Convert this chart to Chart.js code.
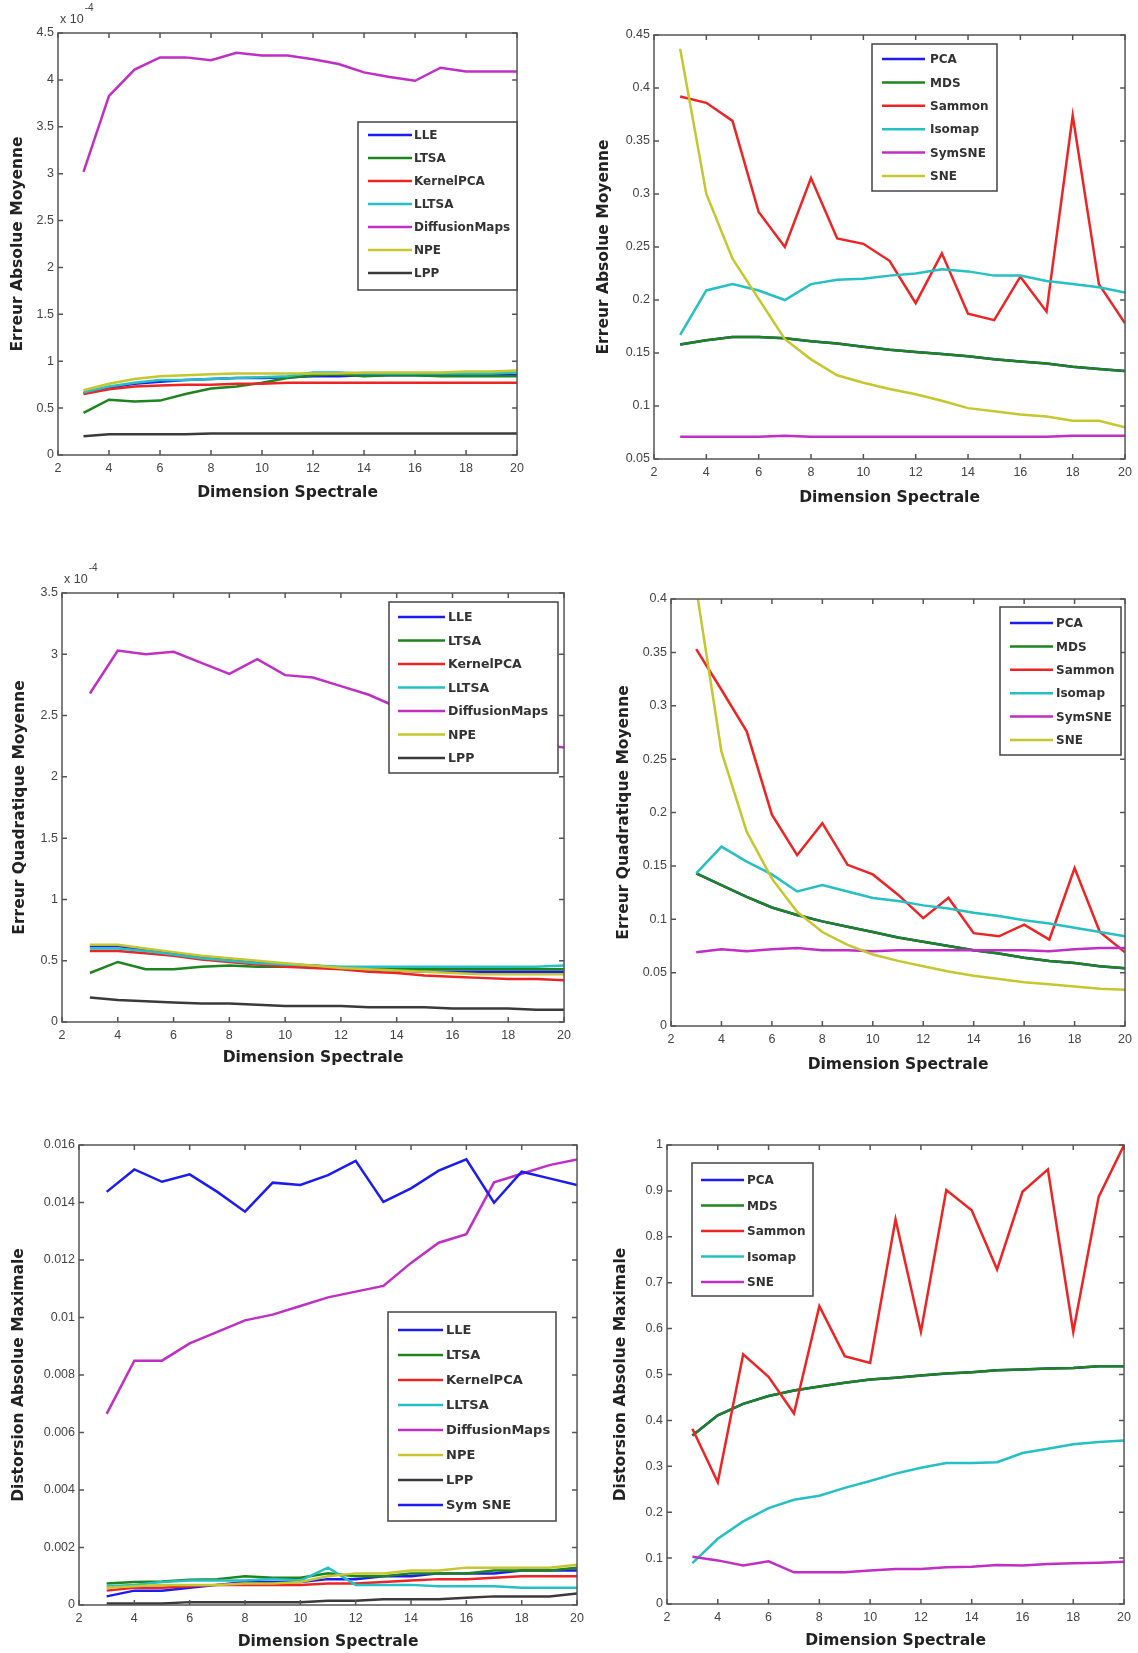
<!DOCTYPE html>
<html>
<head>
<meta charset="utf-8">
<script src="https://cdn.jsdelivr.net/npm/chart.js@4.4.1/dist/chart.umd.min.js"></script>
<style>
  html, body { margin: 0; padding: 0; background: #fff; }
  body { width: 1138px; height: 1653px; position: relative; overflow: hidden; }
  canvas { position: absolute; }
</style>
</head>
<body>
<canvas id="p1"></canvas>
<canvas id="p2"></canvas>
<canvas id="p3"></canvas>
<canvas id="p4"></canvas>
<canvas id="p5"></canvas>
<canvas id="p6"></canvas>
<script>
// --- DONNEES ---
const dims = [3, 4, 5, 6, 7, 8, 9, 10, 11, 12, 13, 14, 15, 16, 17, 18, 19, 20];
const xTicks = [2, 4, 6, 8, 10, 12, 14, 16, 18, 20];

// Erreur Absolue Moyenne (x 10^-4)
const eamLLE   = [0.66, 0.72, 0.76, 0.78, 0.80, 0.81, 0.82, 0.82, 0.83, 0.84, 0.84, 0.85, 0.85, 0.85, 0.85, 0.85, 0.85, 0.85];
const eamLTSA  = [0.45, 0.59, 0.57, 0.58, 0.65, 0.71, 0.73, 0.77, 0.82, 0.85, 0.86, 0.84, 0.85, 0.85, 0.84, 0.84, 0.84, 0.84];
const eamKPCA  = [0.65, 0.70, 0.73, 0.74, 0.75, 0.75, 0.76, 0.76, 0.77, 0.77, 0.77, 0.77, 0.77, 0.77, 0.77, 0.77, 0.77, 0.77];
const eamLLTSA = [0.67, 0.73, 0.77, 0.80, 0.80, 0.81, 0.82, 0.83, 0.84, 0.88, 0.88, 0.87, 0.87, 0.87, 0.87, 0.87, 0.87, 0.88];
const eamDM    = [3.02, 3.83, 4.11, 4.24, 4.24, 4.21, 4.29, 4.26, 4.26, 4.22, 4.17, 4.08, 4.03, 3.99, 4.13, 4.09, 4.09, 4.09];
const eamNPE   = [0.69, 0.76, 0.81, 0.84, 0.85, 0.86, 0.87, 0.87, 0.87, 0.87, 0.87, 0.88, 0.88, 0.88, 0.88, 0.89, 0.89, 0.90];
const eamLPP   = [0.20, 0.22, 0.22, 0.22, 0.22, 0.23, 0.23, 0.23, 0.23, 0.23, 0.23, 0.23, 0.23, 0.23, 0.23, 0.23, 0.23, 0.23];
const yTicksEam1 = [0, 0.5, 1, 1.5, 2, 2.5, 3, 3.5, 4, 4.5];

const eamPCA    = [0.158, 0.162, 0.165, 0.165, 0.164, 0.161, 0.159, 0.156, 0.153, 0.151, 0.149, 0.147, 0.144, 0.142, 0.140, 0.137, 0.135, 0.133];
const eamMDS    = [0.158, 0.162, 0.165, 0.165, 0.164, 0.161, 0.159, 0.156, 0.153, 0.151, 0.149, 0.147, 0.144, 0.142, 0.140, 0.137, 0.135, 0.133];
const eamSammon = [0.392, 0.386, 0.369, 0.283, 0.250, 0.315, 0.258, 0.253, 0.237, 0.197, 0.244, 0.187, 0.181, 0.222, 0.189, 0.374, 0.215, 0.178];
const eamIsomap = [0.167, 0.209, 0.215, 0.209, 0.200, 0.215, 0.219, 0.220, 0.223, 0.225, 0.229, 0.227, 0.223, 0.223, 0.218, 0.215, 0.212, 0.207];
const eamSymSNE = [0.071, 0.071, 0.071, 0.071, 0.072, 0.071, 0.071, 0.071, 0.071, 0.071, 0.071, 0.071, 0.071, 0.071, 0.071, 0.072, 0.072, 0.072];
const eamSNE    = [0.437, 0.300, 0.239, 0.201, 0.163, 0.144, 0.129, 0.122, 0.116, 0.111, 0.105, 0.098, 0.095, 0.092, 0.090, 0.086, 0.086, 0.080];
const yTicksEam2 = [0.05, 0.1, 0.15, 0.2, 0.25, 0.3, 0.35, 0.4, 0.45];

// Erreur Quadratique Moyenne (x 10^-4)
const eqmLLE   = [0.62, 0.62, 0.59, 0.56, 0.53, 0.51, 0.49, 0.47, 0.46, 0.44, 0.43, 0.42, 0.41, 0.41, 0.41, 0.41, 0.41, 0.41];
const eqmLTSA  = [0.40, 0.49, 0.43, 0.43, 0.45, 0.46, 0.45, 0.45, 0.45, 0.44, 0.44, 0.43, 0.43, 0.43, 0.43, 0.43, 0.43, 0.43];
const eqmKPCA  = [0.58, 0.58, 0.56, 0.54, 0.51, 0.49, 0.47, 0.45, 0.44, 0.43, 0.41, 0.40, 0.38, 0.37, 0.36, 0.35, 0.35, 0.34];
const eqmLLTSA = [0.60, 0.60, 0.58, 0.55, 0.52, 0.50, 0.48, 0.47, 0.46, 0.45, 0.45, 0.45, 0.45, 0.45, 0.45, 0.45, 0.45, 0.46];
const eqmDM    = [2.68, 3.03, 3.00, 3.02, 2.93, 2.84, 2.96, 2.83, 2.81, 2.74, 2.67, 2.57, 2.50, 2.43, 2.37, 2.32, 2.27, 2.24];
const eqmNPE   = [0.63, 0.63, 0.60, 0.57, 0.54, 0.52, 0.50, 0.48, 0.46, 0.44, 0.43, 0.42, 0.41, 0.40, 0.39, 0.39, 0.39, 0.39];
const eqmLPP   = [0.20, 0.18, 0.17, 0.16, 0.15, 0.15, 0.14, 0.13, 0.13, 0.13, 0.12, 0.12, 0.12, 0.11, 0.11, 0.11, 0.10, 0.10];
const yTicksEqm1 = [0, 0.5, 1, 1.5, 2, 2.5, 3, 3.5];

const eqmPCA    = [0.143, 0.132, 0.121, 0.111, 0.104, 0.098, 0.093, 0.088, 0.083, 0.079, 0.075, 0.071, 0.068, 0.064, 0.061, 0.059, 0.056, 0.054];
const eqmMDS    = [0.143, 0.132, 0.121, 0.111, 0.104, 0.098, 0.093, 0.088, 0.083, 0.079, 0.075, 0.071, 0.068, 0.064, 0.061, 0.059, 0.056, 0.054];
const eqmSammon = [0.353, 0.315, 0.276, 0.198, 0.160, 0.190, 0.151, 0.142, 0.123, 0.101, 0.120, 0.087, 0.084, 0.095, 0.081, 0.148, 0.088, 0.069];
const eqmIsomap = [0.143, 0.168, 0.154, 0.142, 0.126, 0.132, 0.126, 0.120, 0.117, 0.113, 0.110, 0.106, 0.103, 0.099, 0.096, 0.092, 0.088, 0.084];
const eqmSymSNE = [0.069, 0.072, 0.070, 0.072, 0.073, 0.071, 0.071, 0.070, 0.071, 0.071, 0.071, 0.071, 0.071, 0.071, 0.070, 0.072, 0.073, 0.073];
const eqmSNE    = [0.410, 0.257, 0.182, 0.138, 0.107, 0.088, 0.076, 0.067, 0.061, 0.056, 0.051, 0.047, 0.044, 0.041, 0.039, 0.037, 0.035, 0.034];
const yTicksEqm2 = [0, 0.05, 0.1, 0.15, 0.2, 0.25, 0.3, 0.35, 0.4];

// Distorsion Absolue Maximale
const damLLE    = [0.0003, 0.0005, 0.0005, 0.0006, 0.0007, 0.0008, 0.0008, 0.0008, 0.0009, 0.0009, 0.0010, 0.0010, 0.0011, 0.0011, 0.0011, 0.0012, 0.0012, 0.0012];
const damLTSA   = [0.00075, 0.0008, 0.00082, 0.00088, 0.0009, 0.0010, 0.00095, 0.00095, 0.0011, 0.0010, 0.0010, 0.0011, 0.0011, 0.0011, 0.0012, 0.0012, 0.0012, 0.0013];
const damKPCA   = [0.0005, 0.0006, 0.0006, 0.00065, 0.0007, 0.0007, 0.0007, 0.0007, 0.00075, 0.00075, 0.0008, 0.00085, 0.0009, 0.0009, 0.00095, 0.0010, 0.0010, 0.0010];
const damLLTSA  = [0.00065, 0.0007, 0.0008, 0.00085, 0.00085, 0.00085, 0.0009, 0.00085, 0.0013, 0.0007, 0.0007, 0.0007, 0.00065, 0.00065, 0.00065, 0.0006, 0.0006, 0.0006];
const damDM     = [0.00665, 0.0085, 0.0085, 0.0091, 0.0095, 0.0099, 0.0101, 0.0104, 0.0107, 0.0109, 0.0111, 0.0119, 0.0126, 0.0129, 0.0147, 0.0150, 0.0153, 0.0155];
const damNPE    = [0.0006, 0.00065, 0.0007, 0.0007, 0.0007, 0.00075, 0.00075, 0.0008, 0.0010, 0.0011, 0.0011, 0.0012, 0.0012, 0.0013, 0.0013, 0.0013, 0.0013, 0.0014];
const damLPP    = [0.00005, 0.00005, 0.00005, 0.0001, 0.0001, 0.0001, 0.0001, 0.0001, 0.00015, 0.00015, 0.0002, 0.0002, 0.0002, 0.00025, 0.0003, 0.0003, 0.0003, 0.0004];
const damSymSNE = [0.01437, 0.01515, 0.01472, 0.01498, 0.01437, 0.01368, 0.01469, 0.01461, 0.01495, 0.01545, 0.01402, 0.01449, 0.01511, 0.01550, 0.01399, 0.01507, 0.01484, 0.01461];
const yTicksDam1 = [0, 0.002, 0.004, 0.006, 0.008, 0.01, 0.012, 0.014, 0.016];

const damPCA    = [0.367, 0.411, 0.436, 0.453, 0.465, 0.474, 0.482, 0.489, 0.493, 0.498, 0.502, 0.505, 0.509, 0.511, 0.513, 0.514, 0.518, 0.518];
const damMDS    = [0.367, 0.411, 0.436, 0.453, 0.465, 0.474, 0.482, 0.489, 0.493, 0.498, 0.502, 0.505, 0.509, 0.511, 0.513, 0.514, 0.518, 0.518];
const damSammon = [0.382, 0.265, 0.544, 0.495, 0.415, 0.649, 0.540, 0.525, 0.838, 0.593, 0.902, 0.858, 0.729, 0.898, 0.947, 0.593, 0.887, 1.000];
const damIsomap = [0.089, 0.142, 0.180, 0.209, 0.227, 0.236, 0.253, 0.268, 0.284, 0.297, 0.307, 0.307, 0.309, 0.329, 0.338, 0.348, 0.353, 0.356];
const damSNE    = [0.103, 0.095, 0.084, 0.093, 0.069, 0.069, 0.069, 0.073, 0.076, 0.076, 0.080, 0.081, 0.085, 0.084, 0.087, 0.089, 0.090, 0.092];
const yTicksDam2 = [0, 0.1, 0.2, 0.3, 0.4, 0.5, 0.6, 0.7, 0.8, 0.9, 1];

// --- STYLE ---
const col = {
    blue: '#1c1cf2', green: '#1e841e', red: '#ee2424', cyan: '#24c0c4',
    magenta: '#c02ec6', yellow: '#c6c62e', gray: '#3a3a3a'
};
const TITLE_FONT = { family: '"DejaVu Sans"', size: 15.5, weight: 'bold' };
const TICK_FONT = { family: '"Liberation Sans", Arial', size: 12.5 };
const PAD_T = 30, PAD_R = 12;

// cadre façon MATLAB : boîte + graduations vers l'intérieur
const matlabFrame = {
    id: 'matlabFrame',
    afterDatasetsDraw(chart) {
        const { ctx, chartArea: a, scales: { x, y } } = chart;
        const tl = 5;
        ctx.save();
        ctx.strokeStyle = '#555';
        ctx.lineWidth = 1.5;
        ctx.strokeRect(a.left, a.top, a.right - a.left, a.bottom - a.top);
        ctx.beginPath();
        x.ticks.forEach(t => {
            const px = x.getPixelForValue(t.value);
            ctx.moveTo(px, a.bottom); ctx.lineTo(px, a.bottom - tl);
            ctx.moveTo(px, a.top); ctx.lineTo(px, a.top + tl);
        });
        y.ticks.forEach(t => {
            const py = y.getPixelForValue(t.value);
            ctx.moveTo(a.left, py); ctx.lineTo(a.left + tl, py);
            ctx.moveTo(a.right, py); ctx.lineTo(a.right - tl, py);
        });
        ctx.stroke();
        ctx.restore();
    }
};

// légende encadrée dans la zone du tracé
const boxLegend = {
    id: 'boxLegend',
    afterDraw(chart, args, o) {
        if (!o || o.w === undefined) return;
        const { ctx, chartArea: a } = chart;
        const x0 = a.left + o.x, y0 = a.top + o.y;
        ctx.save();
        ctx.fillStyle = '#fff';
        ctx.fillRect(x0, y0, o.w, o.h);
        ctx.strokeStyle = '#444';
        ctx.lineWidth = 1.5;
        ctx.strokeRect(x0, y0, o.w, o.h);
        ctx.font = 'bold ' + o.size + 'px "DejaVu Sans"';
        ctx.textBaseline = 'middle';
        chart.data.datasets.forEach((ds, i) => {
            const yy = y0 + o.row0 + i * o.step;
            ctx.strokeStyle = ds.borderColor;
            ctx.lineWidth = 2.5;
            ctx.beginPath();
            ctx.moveTo(x0 + o.s0, yy);
            ctx.lineTo(x0 + o.s1, yy);
            ctx.stroke();
            ctx.fillStyle = '#333';
            ctx.fillText(ds.label, x0 + o.tx, yy + 1);
        });
        ctx.restore();
    }
};

// facteur d'échelle "x 10^-4"
const expLabel = {
    id: 'expLabel',
    afterDraw(chart, args, o) {
        if (!o || !o.exp) return;
        const { ctx, chartArea: a } = chart;
        ctx.save();
        ctx.fillStyle = '#444';
        ctx.textBaseline = 'middle';
        ctx.font = '12.5px "Liberation Sans", Arial';
        ctx.fillText('x 10', a.left + 2, a.top - 13);
        const w = ctx.measureText('x 10').width;
        ctx.font = '10px "Liberation Sans", Arial';
        ctx.fillText(o.exp, a.left + w + 3, a.top - 25);
        ctx.restore();
    }
};

function makePanel(id, box, yTicks, yTitle, series, legend, exp) {
    const lh = TITLE_FONT.size * 1.2 / 2;
    const yW = Math.round(box.yGap + lh);
    const xH = Math.round(box.xGap + lh);
    const cv = document.getElementById(id);
    const w = box.r - box.l + yW + PAD_R;
    const h = box.b - box.t + PAD_T + xH;
    cv.width = w; cv.height = h;
    cv.style.left = (box.l - yW) + 'px';
    cv.style.top = (box.t - PAD_T) + 'px';
    cv.style.width = w + 'px';
    cv.style.height = h + 'px';

    const n = series.length;
    const datasets = series.map((s, i) => ({
        label: s.label,
        data: s.values.map((v, k) => ({ x: dims[k], y: v })),
        borderColor: s.color,
        backgroundColor: s.color,
        borderWidth: 2.5,
        pointRadius: 0,
        tension: 0,
        fill: false,
        order: n - i
    }));
    const fmt = v => String(+Number(v).toFixed(5));

    new Chart(cv.getContext('2d'), {
        type: 'line',
        data: { datasets },
        options: {
            responsive: false,
            animation: false,
            layout: { padding: { top: PAD_T, right: PAD_R, left: 0, bottom: 0 } },
            plugins: {
                legend: { display: false },
                tooltip: { enabled: false },
                boxLegend: legend,
                expLabel: { exp: exp }
            },
            scales: {
                x: {
                    type: 'linear', min: xTicks[0], max: xTicks[xTicks.length - 1],
                    afterBuildTicks: s => { s.ticks = xTicks.map(v => ({ value: v })); },
                    afterFit: s => { s.height = xH; },
                    grid: { display: false, drawTicks: false }, border: { display: false },
                    ticks: { font: TICK_FONT, color: '#444', padding: 6, autoSkip: false, maxRotation: 0, callback: fmt },
                    title: { display: true, text: 'Dimension Spectrale', font: TITLE_FONT, color: '#222', padding: 0 }
                },
                y: {
                    type: 'linear', min: yTicks[0], max: yTicks[yTicks.length - 1],
                    afterBuildTicks: s => { s.ticks = yTicks.map(v => ({ value: v })); },
                    afterFit: s => { s.width = yW; },
                    grid: { display: false, drawTicks: false }, border: { display: false },
                    ticks: { font: TICK_FONT, color: '#444', padding: 4, autoSkip: false, callback: fmt },
                    title: { display: true, text: yTitle, font: TITLE_FONT, color: '#222', padding: 0 }
                }
            }
        },
        plugins: [matlabFrame, boxLegend, expLabel]
    });
}

window.onload = () => {
    makePanel('p1', { l: 58, t: 33, r: 518, b: 455, yGap: 40, xGap: 38 }, yTicksEam1, 'Erreur Absolue Moyenne', [
        { label: 'LLE', values: eamLLE, color: col.blue },
        { label: 'LTSA', values: eamLTSA, color: col.green },
        { label: 'KernelPCA', values: eamKPCA, color: col.red },
        { label: 'LLTSA', values: eamLLTSA, color: col.cyan },
        { label: 'DiffusionMaps', values: eamDM, color: col.magenta },
        { label: 'NPE', values: eamNPE, color: col.yellow },
        { label: 'LPP', values: eamLPP, color: col.gray }
    ], { x: 300, y: 89, w: 159, h: 168, row0: 13, step: 23, s0: 10, s1: 54, tx: 56, size: 12 }, '-4');

    makePanel('p2', { l: 654, t: 35, r: 1126, b: 459, yGap: 50, xGap: 39 }, yTicksEam2, 'Erreur Absolue Moyenne', [
        { label: 'PCA', values: eamPCA, color: col.blue },
        { label: 'MDS', values: eamMDS, color: col.green },
        { label: 'Sammon', values: eamSammon, color: col.red },
        { label: 'Isomap', values: eamIsomap, color: col.cyan },
        { label: 'SymSNE', values: eamSymSNE, color: col.magenta },
        { label: 'SNE', values: eamSNE, color: col.yellow }
    ], { x: 218, y: 9, w: 125, h: 147, row0: 15, step: 23.4, s0: 10, s1: 53, tx: 58, size: 12 }, null);

    makePanel('p3', { l: 62, t: 593, r: 565, b: 1022, yGap: 42, xGap: 36 }, yTicksEqm1, 'Erreur Quadratique Moyenne', [
        { label: 'LLE', values: eqmLLE, color: col.blue },
        { label: 'LTSA', values: eqmLTSA, color: col.green },
        { label: 'KernelPCA', values: eqmKPCA, color: col.red },
        { label: 'LLTSA', values: eqmLLTSA, color: col.cyan },
        { label: 'DiffusionMaps', values: eqmDM, color: col.magenta },
        { label: 'NPE', values: eqmNPE, color: col.yellow },
        { label: 'LPP', values: eqmLPP, color: col.gray }
    ], { x: 327, y: 9, w: 169, h: 171, row0: 15, step: 23.5, s0: 9, s1: 56, tx: 59, size: 12.5 }, '-4');

    makePanel('p4', { l: 671, t: 599, r: 1126, b: 1026, yGap: 47, xGap: 39 }, yTicksEqm2, 'Erreur Quadratique Moyenne', [
        { label: 'PCA', values: eqmPCA, color: col.blue },
        { label: 'MDS', values: eqmMDS, color: col.green },
        { label: 'Sammon', values: eqmSammon, color: col.red },
        { label: 'Isomap', values: eqmIsomap, color: col.cyan },
        { label: 'SymSNE', values: eqmSymSNE, color: col.magenta },
        { label: 'SNE', values: eqmSNE, color: col.yellow }
    ], { x: 329, y: 8, w: 121, h: 148, row0: 16, step: 23.4, s0: 10, s1: 53, tx: 56, size: 12 }, null);

    makePanel('p5', { l: 79, t: 1145, r: 578, b: 1605, yGap: 60, xGap: 37 }, yTicksDam1, 'Distorsion Absolue Maximale', [
        { label: 'LLE', values: damLLE, color: col.blue },
        { label: 'LTSA', values: damLTSA, color: col.green },
        { label: 'KernelPCA', values: damKPCA, color: col.red },
        { label: 'LLTSA', values: damLLTSA, color: col.cyan },
        { label: 'DiffusionMaps', values: damDM, color: col.magenta },
        { label: 'NPE', values: damNPE, color: col.yellow },
        { label: 'LPP', values: damLPP, color: col.gray },
        { label: 'Sym SNE', values: damSymSNE, color: col.blue }
    ], { x: 309, y: 167, w: 168, h: 209, row0: 18, step: 25, s0: 10, s1: 55, tx: 58, size: 13 }, null);

    makePanel('p6', { l: 667, t: 1145, r: 1125, b: 1604, yGap: 46, xGap: 37 }, yTicksDam2, 'Distorsion Absolue Maximale', [
        { label: 'PCA', values: damPCA, color: col.blue },
        { label: 'MDS', values: damMDS, color: col.green },
        { label: 'Sammon', values: damSammon, color: col.red },
        { label: 'Isomap', values: damIsomap, color: col.cyan },
        { label: 'SNE', values: damSNE, color: col.magenta }
    ], { x: 25, y: 18, w: 121, h: 133, row0: 17, step: 25.5, s0: 9, s1: 52, tx: 55, size: 12 }, null);
};
</script>
</body>
</html>
